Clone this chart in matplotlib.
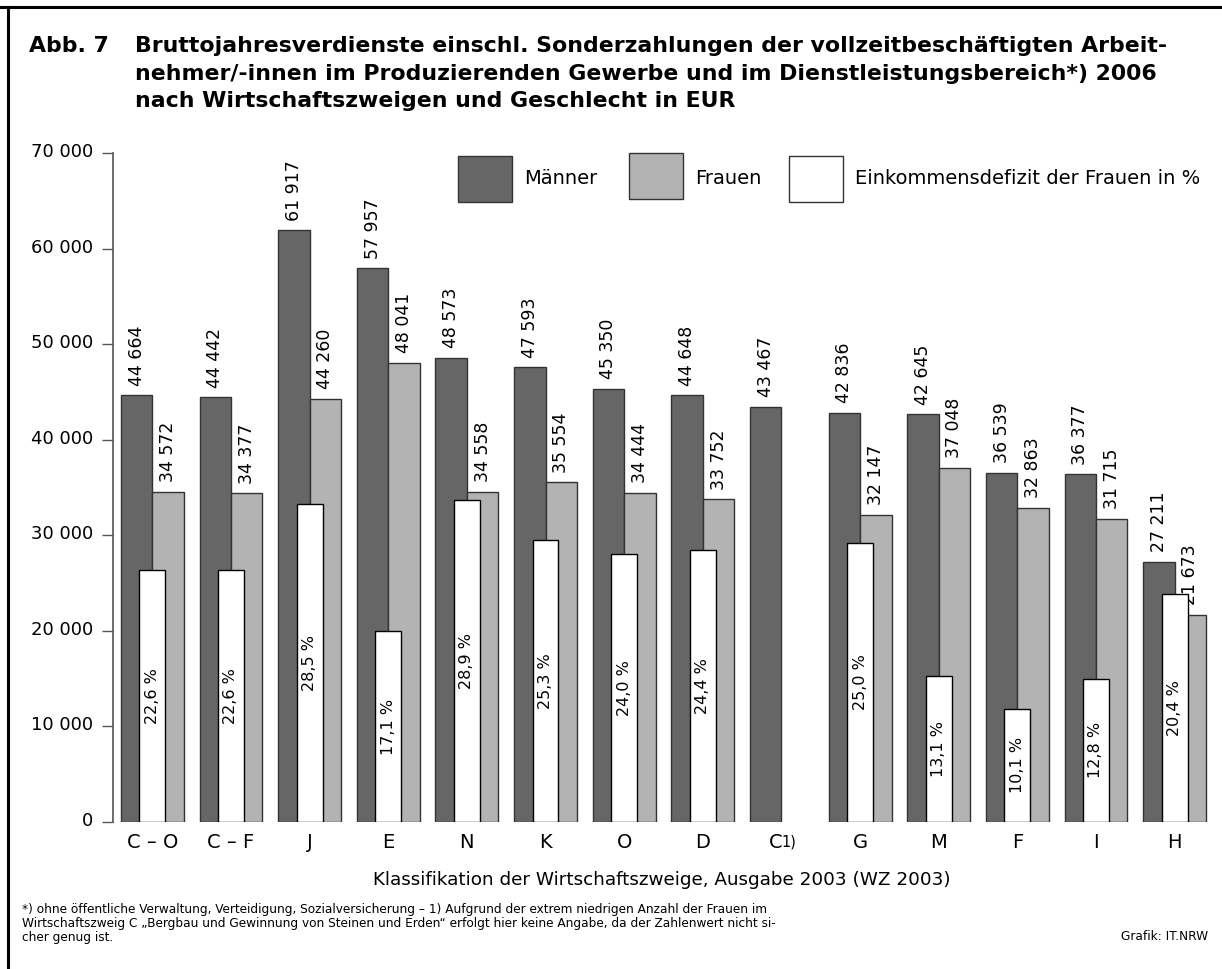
import matplotlib
matplotlib.use("Agg")
import matplotlib.pyplot as plt
from matplotlib.patches import Rectangle
from matplotlib.lines import Line2D
from matplotlib.transforms import ScaledTranslation

plt.rcParams['font.family'] = ['DejaVu Sans']

# Daten
kategorien = ["C – O", "C – F", "J", "E", "N", "K", "O", "D", "C", "G", "M", "F", "I", "H"]
maenner = [44664, 44442, 61917, 57957, 48573, 47593, 45350, 44648, 43467, 42836, 42645, 36539, 36377, 27211]
frauen = [34572, 34377, 44260, 48041, 34558, 35554, 34444, 33752, None, 32147, 37048, 32863, 31715, 21673]
defizit = [22.6, 22.6, 28.5, 17.1, 28.9, 25.3, 24.0, 24.4, None, 25.0, 13.1, 10.1, 12.8, 20.4]

W, H = 1222, 969
dunkel = '#666666'
hell = '#b3b3b3'

def fx(px):
    return px / W

def fy(py):
    return 1 - py / H

def tsd(v):
    return f"{v:,}".replace(",", " ")

fig = plt.figure(figsize=(W / 100, H / 100), dpi=100)
ax = fig.add_axes([fx(113), fy(821.7), fx(1210) - fx(113), fy(153.2) - fy(821.7)])

# Prozent-Skala: 60 % entsprechen 70 000
skala = 70000 / 60

for i in range(len(kategorien)):
    ax.bar(i - 0.2, maenner[i], width=0.4, color=dunkel, edgecolor='#333333', linewidth=1, zorder=2)
    ax.text(i - 0.2, maenner[i] + 1000, tsd(maenner[i]), rotation=90, ha='center', va='bottom', fontsize=12.5)
    if frauen[i] is not None:
        ax.bar(i + 0.2, frauen[i], width=0.4, color=hell, edgecolor='#333333', linewidth=1, zorder=2)
        ax.text(i + 0.2, frauen[i] + 1000, tsd(frauen[i]), rotation=90, ha='center', va='bottom', fontsize=12.5)
    if defizit[i] is not None:
        h = defizit[i] * skala
        ax.bar(i, h, width=0.33, color='white', edgecolor='black', linewidth=1, zorder=3)
        ax.text(i, h / 2, f"{defizit[i]:.1f} %".replace(".", ","), rotation=90, ha='center', va='center',
                fontsize=11.5, zorder=4)

ax.set_xlim(-0.5, 13.45)
ax.set_ylim(0, 70000)
ax.set_yticks(range(0, 70001, 10000))
ax.set_yticklabels([tsd(v) for v in range(0, 70001, 10000)], fontsize=13)
ax.set_xticks(range(len(kategorien)))
ax.set_xticklabels(kategorien, fontsize=14)
ax.tick_params(axis='x', length=0, pad=8)
ax.tick_params(axis='y', length=8, width=1, color='#555555', pad=6)
for lbl in ax.get_yticklabels():
    lbl.set_transform(lbl.get_transform() + ScaledTranslation(0, 3 / 100, fig.dpi_scale_trans))
for s in ['top', 'right', 'bottom']:
    ax.spines[s].set_visible(False)
ax.spines['left'].set_color('#555555')
ax.spines['left'].set_linewidth(1.2)

# C mit Fußnotenzeichen 1)
lbl_c = ax.get_xticklabels()[8]
lbl_c.set_transform(lbl_c.get_transform() + ScaledTranslation(-6 / 100, 0, fig.dpi_scale_trans))
ax.annotate("1)", xy=(8, 0), xycoords=('data', 'axes fraction'), xytext=(0, -17.6),
            textcoords='offset points', fontsize=10.5, va='baseline', ha='left')

ax.set_xlabel("Klassifikation der Wirtschaftszweige, Ausgabe 2003 (WZ 2003)", fontsize=13.2, labelpad=14)

# Legende
leg = [(457.7, 155.7, dunkel, "Männer"), (628.7, 153.5, hell, "Frauen"),
       (789, 155.7, 'white', "Einkommensdefizit der Frauen in %")]
for x0, y0, c, t in leg:
    fig.add_artist(Rectangle((fx(x0), fy(y0 + 46)), fx(54), 46 / H, transform=fig.transFigure,
                             facecolor=c, edgecolor='#333333', linewidth=1))
    fig.text(fx(x0 + 66), fy(179), t, fontsize=14, va='center', ha='left')

# Titel
fig.text(fx(29), fy(52), "Abb. 7", fontsize=15.8, fontweight='bold', va='baseline')
titel = ["Bruttojahresverdienste einschl. Sonderzahlungen der vollzeitbeschäftigten Arbeit-",
         "nehmer/-innen im Produzierenden Gewerbe und im Dienstleistungsbereich*) 2006",
         "nach Wirtschaftszweigen und Geschlecht in EUR"]
for k, z in enumerate(titel):
    fig.text(fx(135), fy(52 + k * 27.5), z, fontsize=15.8, fontweight='bold', va='baseline')

# Fußnote
fuss = ["*) ohne öffentliche Verwaltung, Verteidigung, Sozialversicherung – 1) Aufgrund der extrem niedrigen Anzahl der Frauen im",
        "Wirtschaftszweig C „Bergbau und Gewinnung von Steinen und Erden“ erfolgt hier keine Angabe, da der Zahlenwert nicht si-",
        "cher genug ist."]
for k, z in enumerate(fuss):
    fig.text(fx(22), fy(909 + k * 14), z, fontsize=8.7, va='center')
fig.text(fx(1208), fy(937), "Grafik: IT.NRW", fontsize=8.7, va='center', ha='right')

# Rahmen oben und links
fig.add_artist(Line2D([0, 1], [fy(7), fy(7)], transform=fig.transFigure, color='black', linewidth=2.2))
fig.add_artist(Line2D([fx(8), fx(8)], [0, fy(7)], transform=fig.transFigure, color='black', linewidth=2.2))

fig.savefig("out.png", dpi=100)
